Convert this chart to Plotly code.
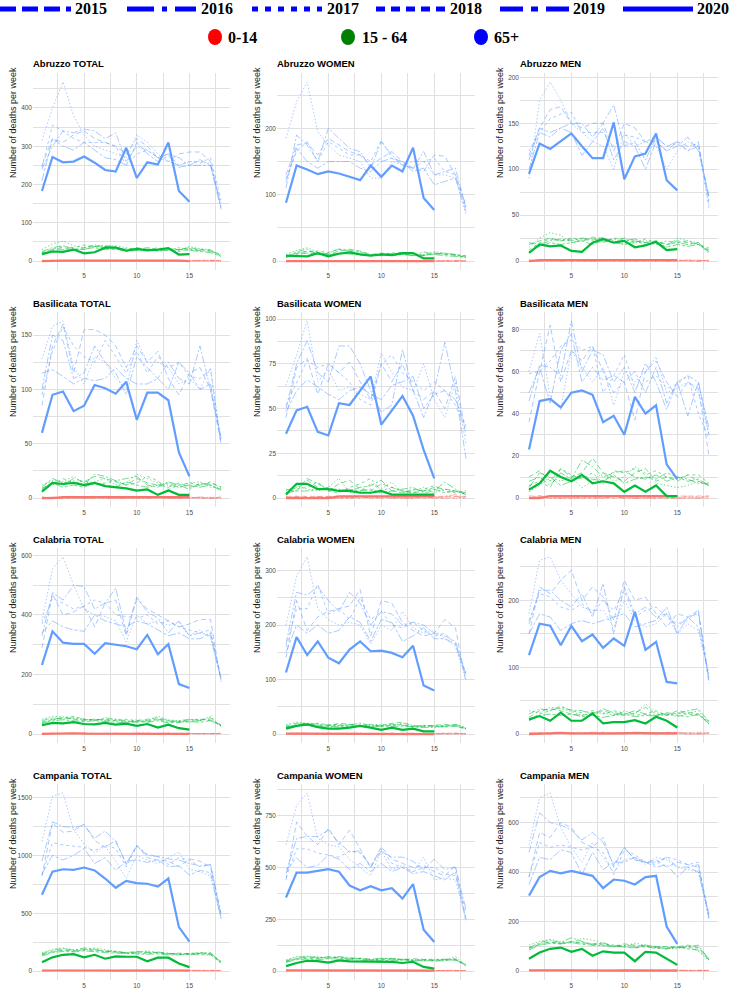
import plotly.graph_objects as go

FIG_W, FIG_H = 732, 992

WEEKS = list(range(1, 19))
YEARS = ["2015", "2016", "2017", "2018", "2019", "2020"]
REGIONS = ["Abruzzo", "Basilicata", "Calabria", "Campania"]
SEXES = ["TOTAL", "WOMEN", "MEN"]
AGE_GROUPS = ["0-14", "15 - 64", "65+"]
Y_TITLE = "Number of deaths per week"
X_TICK_STEP = 5

# ---------------- Abruzzo ----------------
ABRUZZO_TOTAL_0_14 = [
    [1, 2, 1, 0, 1, 2, 1, 1, 0, 2, 1, 1, 2, 1, 0, 1, 2, 1],
    [2, 1, 0, 1, 2, 1, 1, 0, 1, 1, 2, 0, 1, 1, 2, 1, 0, 1],
    [0, 1, 2, 1, 1, 0, 2, 1, 1, 0, 1, 2, 1, 0, 1, 1, 1, 2],
    [1, 0, 1, 2, 0, 1, 1, 2, 1, 1, 0, 1, 1, 2, 1, 0, 1, 1],
    [1, 1, 2, 1, 1, 1, 0, 1, 2, 1, 1, 1, 0, 1, 1, 2, 1, 0],
    [0, 1, 1, 1, 1, 2, 1, 1, 1, 1, 1, 1, 1, 1, 0],
]
ABRUZZO_TOTAL_15_64 = [
    [20, 30, 35, 30, 35, 40, 38, 35, 30, 35, 30, 28, 32, 30, 35, 30, 28, 15],
    [25, 35, 40, 32, 30, 38, 40, 38, 28, 30, 35, 30, 28, 35, 30, 28, 25, 18],
    [30, 45, 52, 40, 35, 42, 38, 40, 35, 30, 32, 28, 30, 28, 38, 32, 30, 14],
    [22, 32, 38, 35, 42, 38, 35, 30, 32, 30, 28, 35, 30, 25, 32, 30, 28, 12],
    [18, 28, 30, 28, 32, 35, 30, 32, 25, 28, 30, 26, 28, 30, 28, 25, 22, 12],
    [18, 25, 24, 30, 20, 23, 35, 35, 27, 32, 28, 30, 34, 17, 18],
]
ABRUZZO_TOTAL_65 = [
    [250, 320, 310, 330, 340, 320, 310, 300, 280, 320, 300, 270, 260, 280, 285, 285, 260, 140],
    [240, 300, 340, 335, 345, 340, 320, 335, 260, 300, 290, 270, 280, 270, 250, 265, 250, 150],
    [315, 400, 468, 380, 330, 300, 290, 280, 270, 330, 310, 280, 260, 250, 260, 260, 255, 140],
    [245, 355, 340, 320, 310, 310, 310, 300, 250, 280, 290, 270, 280, 250, 260, 255, 270, 160],
    [210, 320, 300, 290, 310, 290, 270, 265, 250, 310, 280, 260, 275, 245, 250, 250, 250, 135],
    [183, 272, 258, 260, 273, 257, 238, 234, 296, 217, 258, 252, 310, 183, 155],
]
ABRUZZO_WOMEN_0_14 = [
    [0, 1, 0, 0, 1, 0, 1, 0, 0, 1, 0, 0, 1, 0, 0, 1, 0, 0],
    [1, 0, 0, 1, 0, 0, 0, 1, 0, 0, 1, 0, 0, 0, 1, 0, 0, 1],
    [0, 0, 1, 0, 0, 1, 0, 0, 1, 0, 0, 1, 0, 1, 0, 0, 1, 0],
    [0, 1, 0, 0, 0, 1, 0, 1, 0, 0, 0, 0, 1, 0, 0, 1, 0, 0],
    [1, 0, 0, 0, 1, 0, 0, 0, 0, 1, 0, 1, 0, 0, 0, 0, 1, 0],
    [0, 0, 1, 0, 0, 1, 0, 0, 0, 1, 0, 0, 1, 0, 0],
]
ABRUZZO_WOMEN_15_64 = [
    [8, 12, 15, 12, 10, 15, 18, 15, 10, 12, 10, 10, 12, 8, 12, 10, 9, 6],
    [6, 14, 18, 10, 12, 18, 16, 14, 9, 10, 11, 12, 8, 14, 10, 12, 10, 7],
    [10, 16, 20, 14, 10, 12, 14, 12, 8, 9, 8, 10, 9, 10, 14, 12, 8, 5],
    [7, 12, 14, 15, 13, 18, 15, 10, 9, 11, 12, 13, 10, 8, 12, 11, 10, 8],
    [5, 10, 12, 10, 9, 12, 11, 9, 10, 8, 9, 10, 8, 9, 10, 8, 7, 6],
    [8, 7, 7, 12, 7, 11, 13, 10, 8, 10, 9, 12, 12, 4, 4],
]
ABRUZZO_WOMEN_65 = [
    [130, 175, 178, 160, 185, 175, 165, 160, 145, 155, 165, 150, 140, 135, 160, 158, 130, 80],
    [110, 190, 175, 150, 200, 185, 170, 165, 140, 180, 160, 145, 140, 165, 130, 135, 140, 80],
    [185, 240, 270, 195, 175, 160, 155, 150, 125, 125, 150, 145, 150, 150, 130, 130, 125, 70],
    [125, 165, 180, 150, 180, 170, 160, 160, 150, 182, 155, 145, 140, 150, 155, 135, 130, 85],
    [120, 170, 150, 140, 150, 150, 150, 140, 135, 150, 155, 150, 135, 140, 115, 120, 125, 75],
    [88, 144, 138, 131, 135, 132, 127, 122, 144, 127, 144, 135, 171, 95, 77],
]
ABRUZZO_MEN_0_14 = [
    [1, 0, 1, 0, 0, 1, 0, 1, 1, 0, 1, 0, 1, 0, 1, 0, 0, 1],
    [0, 1, 0, 1, 1, 0, 0, 0, 1, 1, 0, 1, 0, 1, 0, 1, 1, 0],
    [1, 0, 0, 0, 1, 1, 1, 0, 0, 1, 1, 0, 0, 1, 1, 0, 1, 0],
    [0, 0, 1, 1, 0, 0, 1, 1, 0, 0, 1, 1, 0, 0, 1, 1, 0, 1],
    [0, 1, 1, 0, 1, 0, 0, 1, 1, 0, 0, 1, 1, 0, 0, 1, 0, 1],
    [0, 1, 1, 1, 1, 1, 1, 1, 1, 1, 1, 1, 1, 1, 1],
]
ABRUZZO_MEN_15_64 = [
    [18, 22, 25, 22, 24, 22, 26, 25, 20, 25, 22, 20, 22, 18, 22, 20, 18, 12],
    [20, 18, 22, 24, 22, 25, 24, 22, 24, 22, 24, 20, 18, 22, 20, 18, 20, 10],
    [15, 25, 31, 28, 20, 22, 24, 25, 22, 18, 20, 22, 20, 15, 25, 22, 20, 8],
    [12, 20, 24, 22, 25, 24, 22, 20, 25, 24, 20, 24, 20, 18, 20, 22, 18, 14],
    [10, 16, 20, 18, 20, 22, 18, 22, 20, 18, 22, 18, 20, 15, 18, 16, 18, 10],
    [9, 18, 16, 17, 11, 10, 20, 24, 20, 22, 15, 17, 21, 12, 13],
]
ABRUZZO_MEN_65 = [
    [115, 145, 165, 168, 150, 145, 150, 150, 120, 150, 145, 130, 130, 120, 130, 125, 128, 65],
    [100, 140, 135, 145, 150, 150, 135, 150, 170, 125, 130, 110, 135, 125, 130, 120, 125, 70],
    [90, 175, 195, 175, 150, 140, 130, 125, 100, 140, 125, 130, 125, 100, 120, 130, 125, 60],
    [120, 140, 155, 160, 162, 140, 140, 140, 125, 137, 135, 130, 135, 125, 128, 120, 130, 58],
    [110, 145, 140, 145, 140, 115, 130, 145, 110, 130, 125, 100, 130, 120, 125, 135, 120, 70],
    [95, 128, 122, 130, 139, 125, 112, 112, 151, 89, 114, 117, 139, 88, 77],
]

# ---------------- Basilicata ----------------
BASILICATA_TOTAL_0_14 = [
    [0, 1, 0, 0, 1, 0, 0, 1, 0, 0, 1, 1, 0, 0, 1, 0, 0, 1],
    [1, 0, 0, 1, 0, 1, 0, 0, 0, 1, 0, 0, 1, 0, 0, 1, 0, 0],
    [0, 0, 1, 0, 0, 0, 1, 0, 1, 0, 0, 1, 0, 1, 0, 0, 1, 0],
    [0, 1, 0, 0, 0, 1, 0, 0, 1, 0, 1, 0, 0, 0, 1, 0, 0, 0],
    [1, 0, 0, 1, 0, 0, 1, 0, 0, 0, 0, 1, 0, 0, 0, 1, 0, 1],
    [0, 0, 1, 1, 1, 1, 1, 1, 1, 1, 1, 1, 1, 1, 1],
]
BASILICATA_TOTAL_15_64 = [
    [8, 15, 12, 18, 15, 20, 18, 15, 12, 18, 14, 12, 10, 14, 10, 12, 14, 10],
    [10, 18, 14, 16, 12, 22, 20, 16, 18, 20, 12, 10, 15, 12, 8, 14, 12, 8],
    [12, 16, 15, 20, 14, 15, 18, 12, 14, 22, 18, 14, 12, 10, 14, 15, 10, 9],
    [7, 12, 18, 14, 16, 12, 14, 16, 12, 14, 20, 16, 8, 12, 14, 12, 15, 10],
    [9, 14, 10, 12, 10, 14, 12, 10, 15, 12, 10, 12, 14, 10, 12, 10, 12, 7],
    [6, 14, 13, 14, 12, 14, 11, 10, 9, 7, 8, 3, 7, 3, 3],
]
BASILICATA_TOTAL_65 = [
    [85, 140, 160, 115, 155, 155, 150, 140, 120, 140, 125, 135, 110, 95, 115, 120, 100, 50],
    [100, 150, 145, 110, 115, 140, 125, 115, 95, 130, 120, 110, 125, 110, 105, 140, 100, 55],
    [128, 158, 163, 120, 105, 130, 125, 110, 100, 145, 125, 125, 120, 105, 110, 100, 120, 50],
    [95, 135, 158, 140, 130, 125, 145, 130, 115, 135, 115, 130, 120, 125, 112, 110, 118, 50],
    [115, 118, 112, 105, 110, 108, 110, 120, 110, 105, 105, 110, 100, 125, 115, 100, 105, 55],
    [60, 95, 98, 80, 85, 104, 101, 96, 107, 72, 97, 97, 90, 42, 20],
]
BASILICATA_WOMEN_0_14 = [
    [1, 1, 1, 1, 1, 1, 1, 1, 1, 1, 1, 1, 1, 1, 1, 1, 1, 1],
    [0, 1, 0, 0, 1, 0, 0, 1, 0, 0, 1, 0, 0, 1, 0, 0, 1, 0],
    [1, 0, 0, 1, 0, 0, 1, 0, 0, 1, 0, 0, 1, 0, 0, 1, 0, 0],
    [0, 0, 1, 0, 0, 1, 0, 0, 1, 0, 0, 1, 0, 0, 1, 0, 0, 1],
    [0, 1, 0, 1, 0, 0, 0, 1, 0, 1, 0, 0, 0, 1, 0, 1, 2, 0],
    [0, 0, 0, 0, 0, 1, 1, 1, 1, 1, 1, 1, 1, 1, 1],
]
BASILICATA_WOMEN_15_64 = [
    [3, 6, 10, 6, 4, 8, 10, 5, 4, 8, 6, 4, 3, 4, 6, 5, 4, 3],
    [5, 4, 11, 8, 5, 5, 4, 6, 7, 10, 4, 5, 6, 3, 4, 9, 5, 2],
    [4, 7, 5, 4, 6, 11, 3, 4, 8, 5, 9, 3, 4, 6, 3, 5, 4, 2],
    [2, 5, 6, 9, 4, 3, 6, 8, 11, 4, 6, 4, 3, 5, 7, 4, 3, 4],
    [3, 4, 4, 5, 6, 4, 5, 4, 5, 3, 4, 3, 5, 4, 5, 3, 4, 2],
    [2, 8, 8, 5, 5, 4, 4, 3, 3, 4, 2, 2, 2, 2, 2],
]
BASILICATA_WOMEN_65 = [
    [45, 73, 78, 58, 75, 70, 76, 65, 55, 75, 65, 75, 60, 55, 60, 50, 68, 35],
    [50, 75, 88, 70, 65, 85, 85, 75, 60, 48, 52, 83, 60, 45, 60, 87, 60, 22],
    [63, 80, 99, 65, 72, 60, 62, 58, 55, 81, 70, 62, 60, 75, 55, 45, 65, 30],
    [52, 65, 77, 73, 75, 70, 65, 55, 52, 75, 80, 70, 65, 60, 65, 60, 52, 38],
    [48, 60, 66, 62, 58, 55, 60, 62, 58, 55, 63, 65, 68, 50, 58, 60, 55, 40],
    [36, 49, 51, 37, 35, 53, 52, 60, 68, 41, 49, 57, 46, 27, 11],
]
BASILICATA_MEN_0_14 = [
    [1, 1, 1, 1, 1, 1, 1, 1, 1, 1, 1, 1, 1, 1, 1, 1, 1, 1],
    [0, 1, 0, 0, 0, 1, 0, 0, 1, 0, 0, 0, 1, 0, 0, 1, 0, 0],
    [1, 0, 0, 1, 0, 0, 0, 1, 0, 0, 1, 0, 0, 0, 1, 0, 0, 1],
    [0, 0, 1, 0, 1, 0, 0, 0, 0, 1, 0, 1, 0, 0, 0, 0, 1, 0],
    [0, 1, 0, 0, 0, 0, 1, 0, 1, 0, 0, 0, 0, 1, 0, 0, 0, 1],
    [0, 0, 1, 1, 1, 1, 1, 1, 1, 1, 1, 1, 1, 1, 1],
]
BASILICATA_MEN_15_64 = [
    [10, 13, 8, 14, 10, 12, 19, 12, 10, 8, 12, 14, 8, 10, 8, 11, 8, 6],
    [8, 10, 6, 12, 9, 18, 15, 10, 12, 13, 10, 9, 11, 8, 10, 9, 7, 7],
    [3, 6, 10, 8, 10, 5, 8, 12, 8, 10, 15, 12, 7, 6, 5, 6, 8, 6],
    [6, 8, 5, 14, 11, 9, 12, 7, 13, 12, 14, 11, 13, 10, 9, 11, 11, 7],
    [5, 12, 10, 6, 8, 10, 9, 8, 11, 7, 9, 10, 9, 12, 10, 8, 9, 6],
    [4, 7, 13, 10, 8, 11, 7, 8, 7, 3, 6, 3, 6, 1, 1],
]
BASILICATA_MEN_65 = [
    [36, 60, 82, 55, 70, 65, 72, 60, 50, 55, 37, 60, 65, 55, 48, 55, 52, 20],
    [46, 63, 62, 58, 84, 60, 70, 68, 55, 62, 50, 64, 55, 42, 55, 58, 55, 33],
    [60, 78, 48, 42, 70, 62, 55, 62, 44, 60, 55, 60, 67, 50, 52, 55, 50, 30],
    [59, 60, 65, 72, 75, 70, 72, 50, 58, 68, 52, 55, 58, 52, 54, 58, 40, 28],
    [50, 62, 45, 70, 78, 55, 62, 56, 58, 55, 60, 50, 62, 45, 55, 39, 55, 30],
    [23, 46, 47, 43, 50, 51, 49, 36, 39, 30, 48, 40, 44, 16, 9],
]

# ---------------- Calabria ----------------
CALABRIA_TOTAL_0_14 = [
    [2, 3, 1, 2, 4, 2, 1, 3, 2, 2, 3, 1, 2, 3, 2, 1, 2, 3],
    [3, 2, 2, 1, 3, 2, 3, 2, 1, 3, 2, 2, 3, 1, 2, 3, 2, 1],
    [1, 2, 3, 2, 2, 3, 2, 1, 3, 2, 1, 3, 2, 2, 1, 2, 3, 2],
    [2, 1, 2, 3, 2, 1, 2, 3, 2, 1, 2, 2, 1, 3, 2, 2, 1, 2],
    [2, 3, 2, 2, 1, 2, 3, 2, 2, 3, 2, 1, 2, 2, 3, 1, 2, 2],
    [1, 2, 2, 3, 2, 2, 2, 1, 2, 2, 3, 2, 2, 1, 1],
]
CALABRIA_TOTAL_15_64 = [
    [40, 50, 55, 50, 45, 50, 48, 45, 40, 45, 50, 55, 45, 40, 45, 50, 48, 30],
    [45, 55, 50, 55, 50, 45, 55, 50, 45, 40, 45, 50, 40, 45, 50, 45, 55, 28],
    [50, 60, 58, 52, 48, 50, 45, 50, 42, 48, 45, 60, 48, 45, 40, 45, 60, 25],
    [38, 48, 55, 60, 50, 48, 50, 45, 50, 45, 40, 50, 45, 42, 48, 50, 45, 32],
    [35, 45, 48, 45, 42, 45, 42, 40, 38, 42, 40, 45, 38, 40, 42, 40, 45, 28],
    [30, 38, 36, 40, 34, 33, 38, 32, 35, 28, 34, 22, 32, 20, 15],
]
CALABRIA_TOTAL_65 = [
    [290, 470, 400, 410, 430, 360, 440, 450, 330, 455, 420, 400, 380, 360, 370, 385, 385, 175],
    [330, 475, 450, 500, 495, 420, 440, 490, 340, 460, 410, 390, 340, 380, 330, 340, 330, 185],
    [380, 555, 595, 500, 420, 400, 395, 380, 310, 400, 370, 380, 365, 375, 330, 350, 320, 190],
    [370, 455, 440, 420, 430, 450, 440, 400, 395, 390, 400, 370, 380, 360, 350, 340, 350, 180],
    [340, 380, 360, 350, 345, 400, 380, 370, 360, 380, 370, 350, 330, 340, 320, 320, 340, 190],
    [232, 345, 307, 303, 303, 270, 305, 300, 295, 285, 333, 268, 302, 168, 155],
]
CALABRIA_WOMEN_0_14 = [
    [1, 1, 0, 1, 2, 1, 0, 1, 1, 1, 2, 0, 1, 1, 1, 0, 1, 1],
    [1, 2, 1, 0, 1, 1, 1, 2, 0, 1, 1, 1, 2, 0, 1, 1, 2, 0],
    [0, 1, 1, 1, 0, 2, 1, 1, 1, 0, 1, 1, 0, 2, 1, 1, 0, 1],
    [1, 0, 1, 2, 1, 0, 1, 0, 2, 1, 0, 1, 1, 0, 1, 2, 1, 1],
    [1, 1, 2, 0, 1, 1, 0, 1, 1, 1, 0, 2, 1, 1, 0, 1, 1, 0],
    [1, 1, 1, 1, 1, 1, 1, 1, 1, 1, 1, 1, 1, 0, 0],
]
CALABRIA_WOMEN_15_64 = [
    [15, 20, 18, 16, 15, 20, 18, 15, 14, 16, 20, 22, 15, 14, 16, 18, 16, 10],
    [12, 18, 20, 18, 16, 15, 17, 20, 16, 15, 18, 16, 14, 16, 15, 14, 18, 12],
    [18, 22, 20, 15, 14, 16, 18, 14, 17, 18, 15, 20, 16, 14, 12, 15, 18, 10],
    [14, 16, 18, 20, 17, 18, 14, 16, 18, 14, 16, 18, 13, 16, 15, 16, 14, 11],
    [12, 15, 16, 14, 15, 13, 15, 14, 13, 15, 14, 15, 14, 12, 14, 13, 15, 9],
    [10, 15, 18, 13, 10, 10, 12, 15, 12, 8, 12, 8, 10, 5, 5],
]
CALABRIA_WOMEN_65 = [
    [140, 245, 190, 215, 225, 230, 235, 265, 180, 245, 240, 205, 190, 180, 185, 210, 195, 95],
    [165, 260, 255, 270, 245, 225, 260, 240, 200, 225, 220, 200, 205, 200, 185, 180, 170, 110],
    [200, 290, 325, 230, 210, 200, 205, 200, 165, 200, 190, 225, 195, 185, 190, 175, 160, 100],
    [160, 230, 230, 275, 220, 230, 210, 250, 210, 225, 200, 195, 205, 190, 180, 185, 165, 105],
    [150, 200, 185, 200, 185, 190, 215, 205, 170, 210, 205, 170, 180, 195, 175, 175, 165, 110],
    [113, 178, 145, 170, 140, 130, 155, 170, 152, 153, 149, 141, 162, 89, 80],
]
CALABRIA_MEN_0_14 = [
    [1, 2, 1, 1, 2, 1, 1, 2, 1, 1, 1, 1, 1, 2, 1, 1, 1, 2],
    [2, 1, 1, 1, 2, 1, 2, 0, 1, 2, 1, 1, 1, 1, 1, 2, 0, 1],
    [1, 1, 2, 1, 2, 1, 1, 0, 2, 2, 0, 2, 2, 0, 0, 1, 3, 1],
    [1, 1, 1, 1, 1, 1, 1, 3, 0, 1, 2, 1, 0, 3, 1, 0, 0, 1],
    [1, 2, 0, 2, 0, 1, 3, 1, 1, 2, 2, 0, 1, 1, 3, 0, 1, 2],
    [0, 1, 1, 2, 1, 1, 1, 0, 1, 1, 2, 1, 1, 1, 1],
]
CALABRIA_MEN_15_64 = [
    [25, 35, 38, 35, 30, 28, 32, 35, 30, 28, 32, 40, 30, 28, 35, 32, 30, 15],
    [30, 38, 35, 40, 36, 35, 30, 38, 32, 30, 35, 30, 28, 32, 30, 35, 38, 18],
    [35, 32, 40, 38, 34, 28, 30, 32, 28, 35, 30, 45, 32, 30, 26, 30, 35, 14],
    [22, 30, 35, 42, 35, 32, 35, 30, 35, 32, 28, 30, 35, 28, 32, 30, 28, 20],
    [20, 28, 30, 28, 30, 26, 28, 25, 28, 30, 26, 28, 27, 30, 28, 26, 30, 16],
    [22, 27, 20, 32, 20, 20, 31, 16, 18, 18, 21, 16, 26, 20, 10],
]
CALABRIA_MEN_65 = [
    [150, 220, 210, 230, 245, 200, 220, 205, 170, 230, 200, 205, 180, 160, 180, 175, 185, 75],
    [165, 215, 215, 200, 190, 210, 175, 225, 150, 220, 180, 190, 175, 180, 160, 175, 180, 80],
    [180, 260, 265, 230, 210, 190, 185, 185, 160, 200, 170, 160, 165, 180, 150, 165, 155, 85],
    [170, 210, 205, 190, 185, 195, 180, 200, 185, 215, 175, 185, 190, 175, 165, 170, 185, 80],
    [150, 180, 175, 155, 165, 170, 165, 170, 175, 180, 160, 165, 170, 190, 150, 175, 160, 90],
    [118, 165, 162, 133, 162, 139, 149, 129, 143, 132, 183, 126, 138, 78, 76],
]

# ---------------- Campania ----------------
CAMPANIA_TOTAL_0_14 = [
    [5, 7, 6, 4, 6, 5, 7, 5, 4, 6, 5, 6, 7, 5, 4, 6, 5, 4],
    [6, 5, 7, 6, 5, 4, 6, 6, 5, 5, 7, 5, 4, 6, 6, 5, 4, 5],
    [4, 6, 5, 7, 5, 6, 5, 4, 6, 7, 5, 6, 5, 4, 5, 7, 6, 5],
    [5, 4, 6, 5, 7, 6, 4, 6, 5, 4, 6, 5, 6, 7, 5, 4, 5, 6],
    [6, 5, 4, 6, 5, 7, 5, 5, 7, 5, 4, 6, 5, 5, 6, 5, 7, 4],
    [5, 6, 6, 5, 4, 5, 5, 4, 5, 5, 6, 5, 6, 5, 4],
]
CAMPANIA_TOTAL_15_64 = [
    [140, 170, 185, 175, 190, 180, 175, 165, 160, 170, 165, 155, 150, 155, 150, 160, 150, 80],
    [150, 180, 195, 180, 200, 190, 170, 175, 155, 165, 160, 165, 155, 145, 150, 155, 160, 75],
    [160, 190, 200, 185, 180, 200, 185, 170, 150, 160, 175, 160, 145, 150, 140, 155, 150, 70],
    [145, 165, 180, 170, 185, 175, 170, 170, 160, 155, 150, 160, 150, 145, 155, 150, 145, 85],
    [130, 160, 170, 165, 175, 165, 160, 155, 150, 150, 145, 150, 140, 140, 145, 140, 140, 70],
    [76, 119, 141, 147, 119, 141, 107, 127, 124, 124, 85, 116, 116, 65, 34],
]
CAMPANIA_TOTAL_65 = [
    [820, 1280, 1200, 1210, 1270, 1130, 1070, 1130, 920, 1090, 980, 960, 950, 900, 970, 950, 900, 470],
    [950, 1290, 1250, 1240, 1260, 1150, 1210, 1120, 930, 1080, 1000, 990, 970, 960, 930, 910, 920, 500],
    [1120, 1510, 1540, 1220, 1100, 1020, 1080, 950, 800, 1000, 960, 930, 980, 1030, 880, 860, 820, 460],
    [830, 1110, 1090, 1080, 1070, 1040, 1090, 1060, 900, 1080, 1010, 990, 920, 980, 960, 900, 920, 480],
    [840, 1000, 960, 1000, 1060, 930, 980, 870, 950, 960, 940, 960, 900, 910, 830, 870, 850, 450],
    [660, 860, 880, 875, 895, 870, 800, 720, 780, 760, 755, 730, 800, 380, 255],
]
CAMPANIA_WOMEN_0_14 = [
    [3, 2, 4, 3, 2, 3, 2, 3, 4, 2, 3, 2, 3, 2, 4, 3, 2, 3],
    [2, 3, 3, 2, 4, 2, 3, 2, 3, 3, 2, 4, 2, 3, 2, 2, 3, 2],
    [4, 3, 2, 3, 3, 2, 4, 3, 2, 3, 3, 2, 3, 4, 3, 2, 2, 3],
    [3, 4, 3, 2, 3, 4, 2, 2, 3, 2, 4, 3, 2, 3, 3, 4, 3, 2],
    [2, 3, 2, 4, 2, 3, 3, 4, 2, 3, 2, 3, 4, 2, 2, 3, 4, 3],
    [3, 3, 4, 3, 2, 3, 2, 3, 3, 2, 3, 3, 2, 3, 2],
]
CAMPANIA_WOMEN_15_64 = [
    [45, 60, 68, 62, 70, 65, 60, 62, 58, 60, 58, 55, 60, 55, 52, 55, 60, 28],
    [50, 65, 70, 65, 62, 70, 65, 60, 55, 62, 60, 58, 55, 50, 55, 58, 55, 30],
    [55, 70, 72, 68, 65, 68, 60, 58, 52, 58, 62, 55, 50, 58, 50, 52, 70, 28],
    [48, 58, 62, 60, 68, 62, 58, 60, 55, 55, 58, 56, 52, 55, 58, 55, 52, 32],
    [42, 55, 58, 55, 60, 56, 55, 52, 50, 52, 50, 52, 48, 50, 48, 50, 55, 25],
    [24, 39, 50, 48, 41, 52, 47, 47, 44, 44, 44, 39, 45, 20, 12],
]
CAMPANIA_WOMEN_65 = [
    [440, 720, 650, 610, 690, 610, 680, 590, 500, 600, 540, 520, 500, 510, 480, 460, 510, 250],
    [470, 640, 650, 650, 680, 620, 575, 580, 500, 580, 550, 550, 530, 490, 540, 490, 500, 300],
    [610, 800, 860, 640, 610, 600, 540, 500, 460, 580, 490, 510, 480, 550, 440, 450, 440, 250],
    [450, 590, 590, 570, 560, 550, 580, 570, 510, 590, 520, 500, 480, 500, 500, 470, 460, 290],
    [490, 545, 500, 510, 560, 540, 490, 520, 480, 520, 480, 500, 470, 480, 460, 440, 480, 240],
    [355, 475, 475, 482, 492, 480, 413, 390, 410, 390, 400, 350, 420, 200, 140],
]
CAMPANIA_MEN_0_14 = [
    [3, 4, 2, 3, 3, 2, 4, 3, 2, 3, 2, 3, 4, 3, 2, 3, 3, 2],
    [2, 3, 4, 3, 2, 3, 3, 2, 4, 2, 3, 3, 2, 3, 4, 2, 3, 3],
    [4, 2, 3, 2, 4, 3, 2, 3, 3, 4, 2, 2, 3, 2, 3, 4, 2, 3],
    [3, 3, 2, 4, 3, 2, 3, 4, 2, 3, 3, 4, 2, 3, 2, 3, 4, 2],
    [2, 4, 3, 3, 2, 4, 2, 2, 3, 3, 4, 2, 3, 4, 3, 2, 3, 3],
    [3, 2, 3, 3, 3, 2, 3, 3, 2, 3, 3, 2, 3, 3, 2],
]
CAMPANIA_MEN_15_64 = [
    [90, 110, 118, 112, 120, 115, 110, 105, 100, 110, 105, 100, 95, 100, 98, 105, 95, 50],
    [95, 115, 125, 115, 135, 120, 105, 115, 100, 105, 100, 105, 100, 95, 95, 98, 105, 45],
    [105, 120, 128, 118, 115, 132, 125, 112, 98, 102, 113, 105, 95, 92, 90, 103, 80, 42],
    [95, 108, 118, 110, 118, 113, 112, 110, 105, 100, 92, 104, 98, 90, 97, 95, 93, 52],
    [85, 105, 112, 110, 115, 108, 105, 103, 100, 98, 95, 98, 92, 90, 97, 90, 85, 45],
    [50, 75, 90, 95, 78, 90, 62, 80, 75, 75, 40, 78, 75, 50, 25],
]
CAMPANIA_MEN_65 = [
    [380, 560, 540, 600, 580, 520, 500, 540, 420, 500, 450, 440, 450, 420, 440, 430, 420, 220],
    [480, 640, 600, 590, 570, 530, 560, 520, 430, 500, 450, 440, 440, 460, 420, 420, 430, 210],
    [510, 700, 720, 580, 500, 440, 520, 460, 400, 450, 460, 430, 460, 450, 420, 410, 400, 210],
    [380, 520, 500, 510, 500, 490, 500, 480, 390, 490, 470, 440, 430, 460, 450, 430, 440, 220],
    [350, 460, 450, 490, 480, 390, 480, 410, 440, 440, 460, 440, 420, 430, 380, 420, 400, 230],
    [305, 380, 405, 395, 405, 395, 385, 335, 370, 365, 350, 380, 385, 180, 110],
]

PANEL_DATA = [
    [(ABRUZZO_TOTAL_0_14, ABRUZZO_TOTAL_15_64, ABRUZZO_TOTAL_65),
     (ABRUZZO_WOMEN_0_14, ABRUZZO_WOMEN_15_64, ABRUZZO_WOMEN_65),
     (ABRUZZO_MEN_0_14, ABRUZZO_MEN_15_64, ABRUZZO_MEN_65)],
    [(BASILICATA_TOTAL_0_14, BASILICATA_TOTAL_15_64, BASILICATA_TOTAL_65),
     (BASILICATA_WOMEN_0_14, BASILICATA_WOMEN_15_64, BASILICATA_WOMEN_65),
     (BASILICATA_MEN_0_14, BASILICATA_MEN_15_64, BASILICATA_MEN_65)],
    [(CALABRIA_TOTAL_0_14, CALABRIA_TOTAL_15_64, CALABRIA_TOTAL_65),
     (CALABRIA_WOMEN_0_14, CALABRIA_WOMEN_15_64, CALABRIA_WOMEN_65),
     (CALABRIA_MEN_0_14, CALABRIA_MEN_15_64, CALABRIA_MEN_65)],
    [(CAMPANIA_TOTAL_0_14, CAMPANIA_TOTAL_15_64, CAMPANIA_TOTAL_65),
     (CAMPANIA_WOMEN_0_14, CAMPANIA_WOMEN_15_64, CAMPANIA_WOMEN_65),
     (CAMPANIA_MEN_0_14, CAMPANIA_MEN_15_64, CAMPANIA_MEN_65)],
]
Y_TICK_STEP = [[100, 100, 50], [50, 25, 20], [200, 100, 100], [500, 250, 200]]

# ---------------- styling ----------------
AGE_RGB = ["248,118,109", "0,186,56", "97,156,255"]
YEAR_DASH = ["5px,3px", "7px,2px,2px,2px", "1.5px,2px", "3px,3px", "8px,2px,3px,2px", "solid"]
LEGEND_DASH = ["16px,6px", "27px,8px,5px,8px", "6px,7px", "9px,6px", "23px,8px,7px,8px", "solid"]
LEGEND_LINES_PX = [(0, 71, 75), (127, 196, 201), (252, 322, 327), (376, 446, 450), (500, 570, 573), (623, 693, 697)]
LEGEND_DOTS_PX = [(215, 228, "#FF0000"), (348, 362, "#008000"), (481, 494, "#0000FF")]
LEGEND_ROW1_Y, LEGEND_ROW2_Y = 9, 37
ROW_PX = [(73, 270), (312, 507), (548, 743), (784, 980)]
COL_PX = [(33, 230), (277, 475), (520, 718)]
GRID = "#E0E0E0"
SANS = "Liberation Sans, Arial, sans-serif"
SERIF = "Liberation Serif, Times New Roman, serif"


def px_x(v):
    return v / FIG_W


def px_y(v):
    return 1 - v / FIG_H


fig = go.Figure()
layout_axes = {}
annotations = []
shapes = []

for r, region in enumerate(REGIONS):
    for c, sex in enumerate(SEXES):
        n = r * 3 + c + 1
        xs = "" if n == 1 else str(n)
        groups = PANEL_DATA[r][c]
        all_vals = [v for g in groups for yr in g for v in yr]
        lo, hi = min(all_vals + [0]), max(all_vals)
        span = hi - lo
        top, bot = ROW_PX[r]
        left, right = COL_PX[c]
        step = Y_TICK_STEP[r][c]

        for k, age in enumerate(AGE_GROUPS):
            for j, year in enumerate(YEARS):
                ys = groups[k][j]
                last = j == len(YEARS) - 1
                fig.add_trace(go.Scatter(
                    x=WEEKS[:len(ys)], y=ys, mode="lines",
                    name=f"{age} {year}", showlegend=False,
                    xaxis="x" + xs, yaxis="y" + xs,
                    line=dict(
                        color=f"rgb({AGE_RGB[k]})" if last else f"rgba({AGE_RGB[k]},0.6)",
                        width=2.2 if last else 0.9,
                        dash=YEAR_DASH[j],
                    ),
                    hoverinfo="skip",
                ))

        layout_axes["xaxis" + xs] = dict(
            domain=[px_x(left), px_x(right)], anchor="y" + xs,
            range=[WEEKS[0] - 0.05 * (WEEKS[-1] - WEEKS[0]), WEEKS[-1] + 0.05 * (WEEKS[-1] - WEEKS[0])],
            tickmode="linear", tick0=0, dtick=X_TICK_STEP,
            showgrid=True, gridcolor=GRID, gridwidth=1,
            minor=dict(tick0=0, dtick=X_TICK_STEP / 2, showgrid=True, gridcolor=GRID, gridwidth=1),
            zeroline=False, showline=False, ticks="",
            tickfont=dict(family=SANS, size=6.5, color="#4D4D4D"),
        )
        layout_axes["yaxis" + xs] = dict(
            domain=[px_y(bot), px_y(top)], anchor="x" + xs,
            range=[lo - 0.05 * span, hi + 0.05 * span],
            tickmode="linear", tick0=0, dtick=step,
            showgrid=True, gridcolor=GRID, gridwidth=1,
            minor=dict(tick0=0, dtick=step / 2, showgrid=True, gridcolor=GRID, gridwidth=1),
            zeroline=False, showline=False, ticks="",
            tickfont=dict(family=SANS, size=6.5, color="#4D4D4D"),
        )
        annotations.append(dict(
            text=f"<b>{region} {sex}</b>", xref="paper", yref="paper",
            x=px_x(left - 2), y=px_y(top - 9), xanchor="left", yanchor="middle",
            showarrow=False, font=dict(family=SANS, size=9.5, color="#000000"),
        ))
        annotations.append(dict(
            text=Y_TITLE, xref="paper", yref="paper", textangle=-90,
            x=px_x(left - 20), y=px_y(top + 50), xanchor="center", yanchor="middle",
            showarrow=False, font=dict(family=SANS, size=9, color="#1A1A1A"),
        ))

# top legend: line types per year
for j, year in enumerate(YEARS):
    x0, x1, lx = LEGEND_LINES_PX[j]
    shapes.append(dict(
        type="line", xref="paper", yref="paper",
        x0=px_x(x0), x1=px_x(x1), y0=px_y(LEGEND_ROW1_Y), y1=px_y(LEGEND_ROW1_Y),
        line=dict(color="#0000FF", width=5, dash=LEGEND_DASH[j]),
    ))
    annotations.append(dict(
        text=f"<b>{year}</b>", xref="paper", yref="paper",
        x=px_x(lx - 2), y=px_y(LEGEND_ROW1_Y), xanchor="left", yanchor="middle",
        showarrow=False, font=dict(family=SERIF, size=16, color="#000000"),
    ))

# top legend: age group colours
for k, age in enumerate(AGE_GROUPS):
    cx, lx, col = LEGEND_DOTS_PX[k]
    shapes.append(dict(
        type="circle", xref="paper", yref="paper",
        x0=px_x(cx - 7), x1=px_x(cx + 7),
        y0=px_y(LEGEND_ROW2_Y + 8), y1=px_y(LEGEND_ROW2_Y - 8),
        fillcolor=col, line=dict(color=col, width=0),
    ))
    annotations.append(dict(
        text=f"<b>{age}</b>", xref="paper", yref="paper",
        x=px_x(lx - 2), y=px_y(LEGEND_ROW2_Y), xanchor="left", yanchor="middle",
        showarrow=False, font=dict(family=SERIF, size=16, color="#000000"),
    ))

fig.update_layout(
    width=FIG_W, height=FIG_H,
    margin=dict(l=0, r=0, t=0, b=0),
    paper_bgcolor="white", plot_bgcolor="white",
    showlegend=False,
    annotations=annotations, shapes=shapes,
    **layout_axes,
)

fig.write_html(
    "out.html",
    config={"displayModeBar": False},
    post_script="document.body.style.margin='0px';document.body.style.overflow='hidden';",
)
